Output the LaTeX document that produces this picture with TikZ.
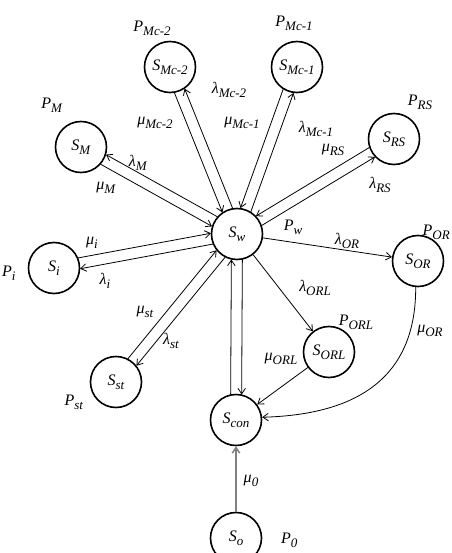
\documentclass[tikz,border=0pt]{standalone}
\usepackage{fontspec}
\setmainfont{Liberation Serif}
\usetikzlibrary{calc,arrows.meta}
\newcommand\lbl[2]{\textit{#1}\raisebox{-3.8pt}{\fontsize{13}{13}\selectfont\textit{#2}}}
\newcommand\duo[3]{%
\draw[arr,shorten <=25.5pt,shorten >=25.5pt] ($(Sw)!5.5pt!#2:(#1)$) -- ($(#1)!5.5pt!#3:(Sw)$);
\draw[arr,shorten <=25.5pt,shorten >=25.5pt] ($(#1)!5.5pt!#2:(Sw)$) -- ($(Sw)!5.5pt!#3:(#1)$);}
\begin{document}
\begin{tikzpicture}[x=1pt,y=-1pt,font=\fontsize{16}{19}\selectfont,
  state/.style={circle,draw,line width=1.6pt,minimum size=51pt,inner sep=0pt},
  arr/.style={line width=0.8pt,-{Straight Barb[length=5.5pt,width=7.5pt]}},
  lab/.style={inner sep=0pt}]
\useasboundingbox (0,0) rectangle (451,553);
% states
\node[state] (Sw)   at (237,234) {\lbl{S}{w}};
\node[state] (SMc2) at (170,67)  {\lbl{S}{Mc-2}};
\node[state] (SMc1) at (297,67)  {\lbl{S}{Mc-1}};
\node[state] (SM)   at (81,147)  {\lbl{S}{M}};
\node[state] (SRS)  at (394,139) {\lbl{S}{RS}};
\node[state] (Si)   at (54,268)  {\lbl{S}{i}};
\node[state] (Sst)  at (116,382) {\lbl{S}{st}};
\node[state] (SOR)  at (418,261) {\lbl{S}{OR}};
\node[state] (SORL) at (329,352) {\lbl{S}{ORL}};
\node[state] (Scon) at (236,420) {\lbl{S}{con}};
\node[state] (So)   at (236,538) {\lbl{S}{o}};
% probability labels
\node[lab] (PMc2) at (152,28)  {\lbl{P}{Mc-2}};
\node[lab] (PMc1) at (294,23)  {\lbl{P}{Mc-1}};
\node[lab] (PM)   at (52,105)  {\lbl{P}{M}};
\node[lab] (PRS)  at (420,102) {\lbl{P}{RS}};
\node[lab,anchor=west] (Pi) at (2,273) {\lbl{P}{i}};
\node[lab] (Pst)  at (74,402)  {\lbl{P}{st}};
\node[lab] (Pw)   at (293,227) {\lbl{P}{w}};
\node[lab,anchor=east] (POR) at (450,232) {\lbl{P}{OR}};
\node[lab] (PORL) at (356,322) {\lbl{P}{ORL}};
\node[lab,anchor=west] (Po) at (281,540) {\lbl{P}{0}};
% pairs of opposite transitions
\duo{SMc2}{-90}{90}
\duo{SMc1}{-90}{90}
\duo{SM}{-90}{90}
\duo{SRS}{-90}{90}
\duo{Si}{90}{-90}
\duo{Sst}{90}{-90}
\duo{Scon}{90}{-90}
% single transitions
\draw[arr] (Sw) -- (SOR);
\draw[arr] (Sw) -- (SORL);
\draw[arr] (SORL) -- (Scon);
\draw[arr] (SOR.-95) .. controls (416,390) and (340,415) .. (Scon.6);
\draw[line width=1.5pt,draw=gray,-{Straight Barb[length=5.5pt,width=7.5pt]}] (So) -- (Scon);
% rate labels
\node[lab] (lMc2) at (229,90)  {\lbl{λ}{Mc-2}};
\node[lab] (mMc2) at (155,123) {\lbl{μ}{Mc-2}};
\node[lab] (mMc1) at (242,123) {\lbl{μ}{Mc-1}};
\node[lab] (lMc1) at (316,129) {\lbl{λ}{Mc-1}};
\node[lab] (mRS)  at (333,150) {\lbl{μ}{RS}};
\node[lab] (lRS)  at (380,185) {\lbl{λ}{RS}};
\node[lab] (lM)   at (138,163) {\lbl{λ}{M}};
\node[lab] (mM)   at (106,188) {\lbl{μ}{M}};
\node[lab] (mi)   at (92,243)  {\lbl{μ}{i}};
\node[lab] (li)   at (105,281) {\lbl{λ}{i}};
\node[lab] (mst)  at (145,312) {\lbl{μ}{st}};
\node[lab] (lst)  at (171,341) {\lbl{λ}{st}};
\node[lab] (lOR)  at (347,241) {\lbl{λ}{OR}};
\node[lab] (lORL) at (315,288) {\lbl{λ}{ORL}};
\node[lab] (mORL) at (281,359) {\lbl{μ}{ORL}};
\node[lab] (mOR)  at (430,331) {\lbl{μ}{OR}};
\node[lab] (mo)   at (251,481) {\lbl{μ}{0}};
\end{tikzpicture}
\end{document}
